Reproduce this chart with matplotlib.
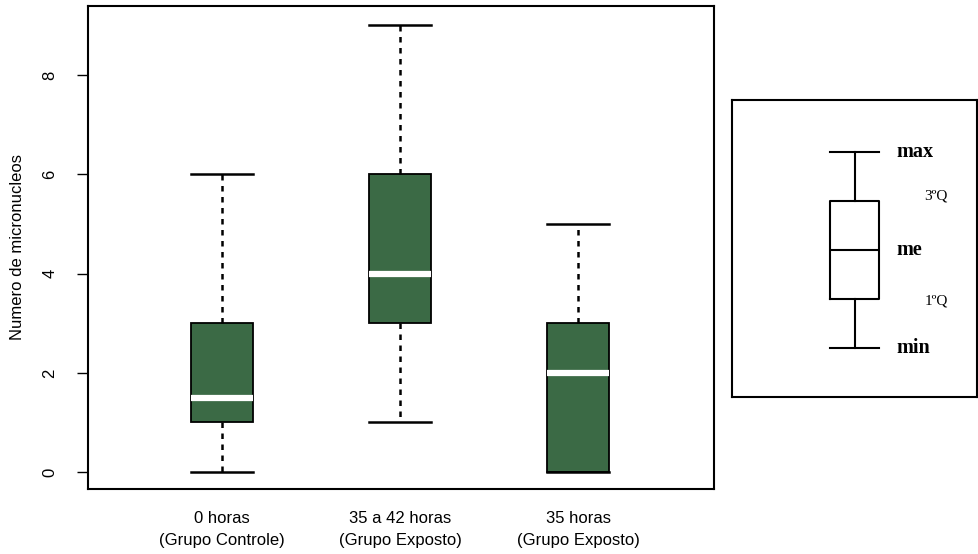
import matplotlib
matplotlib.use("Agg")
import matplotlib.pyplot as plt

# five-number summaries per group
groups = ["0 horas\n(Grupo Controle)", "35 a 42 horas\n(Grupo Exposto)", "35 horas\n(Grupo Exposto)"]
mins = [0, 1, 0]
q1s = [1, 3, 0]
medians = [1.5, 4, 2]
q3s = [3, 6, 3]
maxs = [6, 9, 5]
yticks = [0, 2, 4, 6, 8]

# schematic for the key panel
key_stats = dict(whislo=2.5, q1=3.5, med=4.5, q3=5.5, whishi=6.5)
key_labels = ["max", "3ºQ", "me", "1ºQ", "min"]
key_vals = [6.5, 5.6, 4.5, 3.45, 2.5]

plt.rcParams["font.family"] = ["Liberation Sans", "DejaVu Sans"]

fig = plt.figure(figsize=(9.79, 5.54), dpi=100)
ax = fig.add_axes([0.0899, 0.1173, 0.6394, 0.8719])

stats = []
for lab, lo, a, m, b, hi in zip(groups, mins, q1s, medians, q3s, maxs):
    stats.append(dict(label=lab, whislo=lo, q1=a, med=m, q3=b, whishi=hi, fliers=[]))

ax.bxp(stats, positions=[1, 2, 3], widths=0.345, patch_artist=True, showfliers=False,
       boxprops=dict(facecolor="#3b6a45", edgecolor="black", linewidth=1.3),
       medianprops=dict(color="white", linewidth=4.5, solid_capstyle="butt"),
       whiskerprops=dict(color="black", linestyle=(0, (2.2, 2.2)), linewidth=1.8),
       capprops=dict(color="black", linewidth=1.8),
       capwidths=0.345)

ax.set_xlim(0.247, 3.764)
ax.set_ylim(-0.34, 9.39)
ax.set_yticks(yticks)
ax.set_yticklabels([str(t) for t in yticks], rotation=90, va="center", fontsize=12)
ax.tick_params(axis="y", length=8, width=1, pad=14)
ax.tick_params(axis="x", length=0, pad=16, labelsize=12)
for t in ax.get_xticklabels():
    t.set_linespacing(1.6)
ax.set_ylabel("Numero de micronucleos", fontsize=12)
ax.yaxis.set_label_coords(-0.1, 0.5)
for s in ax.spines.values():
    s.set_linewidth(1.5)

# key panel on the right
kax = fig.add_axes([0.748, 0.2834, 0.250, 0.5361])
kax.set_xlim(0, 1)
kax.set_ylim(1.5, 7.55)
kax.set_xticks([])
kax.set_yticks([])
for s in kax.spines.values():
    s.set_linewidth(1.5)

kax.bxp([dict(key_stats, fliers=[])], positions=[0.5], widths=0.2, showfliers=False,
        boxprops=dict(color="black", linewidth=1.5),
        medianprops=dict(color="black", linewidth=1.5),
        whiskerprops=dict(color="black", linewidth=1.5),
        capprops=dict(color="black", linewidth=1.5),
        capwidths=0.2, manage_ticks=False)

for lab, v in zip(key_labels, key_vals):
    bold = "Q" not in lab
    kax.text(0.67 if bold else 0.785, v, lab, family=["Liberation Serif", "DejaVu Serif"],
             fontsize=14.5 if bold else 11, fontweight="bold" if bold else "normal",
             va="center", ha="left")

fig.savefig("out.png", dpi=100)
